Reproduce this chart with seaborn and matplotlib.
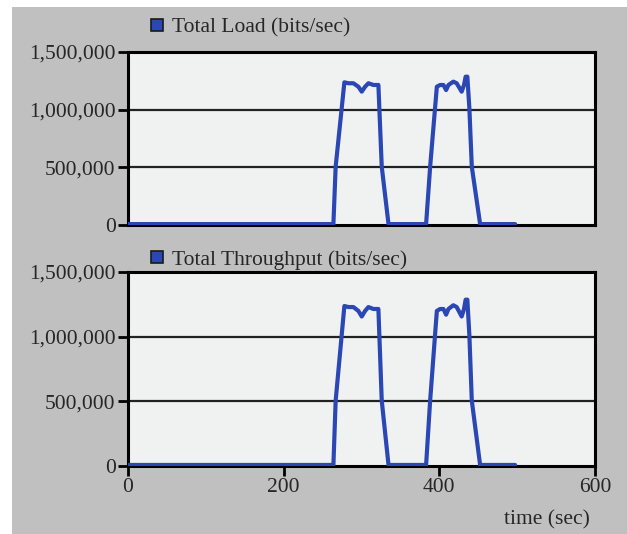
import numpy as np
import pandas as pd
import matplotlib
matplotlib.use('Agg')
from matplotlib import pyplot as plt
from matplotlib.lines import Line2D
from matplotlib.patches import Rectangle
import seaborn as sns

# values
time_sec = [0, 263.9, 266.8, 278, 283.2, 289.6, 296, 300.3, 304.6, 308.9, 315.3, 321.7,
            326, 334.7, 383, 388.2, 396.8, 401, 405.3, 408.7, 411.7, 418, 422.3, 428.7,
            431.7, 433.8, 436, 438.6, 441.7, 452.4, 497.4]
total_load = [8000, 8000, 506000, 1237000, 1229000, 1229000, 1199000, 1156000, 1199000, 1229000,
              1214000, 1214000, 506000, 8000, 8000, 506000, 1199000, 1214000, 1214000, 1170000,
              1214000, 1243000, 1229000, 1156000, 1214000, 1286000, 1286000, 1011000, 506000,
              8000, 8000]
total_throughput = [8000, 8000, 506000, 1237000, 1229000, 1229000, 1199000, 1156000, 1199000, 1229000,
                    1214000, 1214000, 506000, 8000, 8000, 506000, 1199000, 1214000, 1214000, 1170000,
                    1214000, 1243000, 1229000, 1156000, 1214000, 1286000, 1286000, 1011000, 506000,
                    8000, 8000]
y_ticks = [0, 500000, 1000000, 1500000]
y_tick_labels = ['0', '500,000', '1,000,000', '1,500,000']
x_ticks = [0, 200, 400, 600]
x_tick_labels = ['0', '200', '400', '600']
titles = ['Total Load (bits/sec)', 'Total Throughput (bits/sec)']

sns.set_style('white')
plt.rcParams['font.family'] = ['Liberation Serif', 'DejaVu Serif']

line_color = '#2b47b4'
panel_bg = '#f0f2f2'
fig_bg = '#c0c0c0'

fig = plt.figure(figsize=(6.27, 5.34), dpi=100)
fig.patch.set_facecolor('white')
bg = Rectangle((12 / 627, 0), 1, 1 - 7 / 534, transform=fig.transFigure,
               facecolor=fig_bg, edgecolor='none', zorder=-10)
fig.patches.append(bg)

ax1 = fig.add_axes([128 / 627, 1 - 225 / 534, 467 / 627, 173 / 534])
ax2 = fig.add_axes([128 / 627, 1 - 466 / 534, 467 / 627, 194 / 534])

df = pd.DataFrame({'time': time_sec, 'load': total_load, 'throughput': total_throughput})

for ax, col, title, leg_y in [(ax1, 'load', titles[0], 1.07), (ax2, 'throughput', titles[1], 1.0)]:
    ax.set_facecolor(panel_bg)
    sns.lineplot(data=df, x='time', y=col, ax=ax, color=line_color, linewidth=3, zorder=3)
    ax.set_xlim(0, 600)
    ax.set_ylim(0, 1500000)
    ax.set_yticks(y_ticks)
    ax.set_yticklabels(y_tick_labels)
    for v in y_ticks[1:-1]:
        ax.axhline(v, color='#222222', linewidth=1.6, zorder=2)
    for s in ax.spines.values():
        s.set_visible(True)
        s.set_color('black')
        s.set_linewidth(2.2)
    ax.tick_params(axis='both', direction='out', length=7, width=2, color='black',
                   labelsize=15.5, pad=2, left=True, bottom=True)
    ax.set_ylabel('')
    ax.set_xlabel('')
    handle = Line2D([], [], marker='s', linestyle='none', markersize=8.5,
                    markerfacecolor=line_color, markeredgecolor='#1a1a1a', markeredgewidth=1.2)
    ax.legend([handle], [title], loc='lower left', bbox_to_anchor=(0.037, leg_y), frameon=False,
              fontsize=15.5, handletextpad=0.25, borderaxespad=0.0, borderpad=0.1,
              handlelength=0.9)

ax1.set_xticks(x_ticks)
ax1.tick_params(axis='x', bottom=False, labelbottom=False)
ax2.set_xticks(x_ticks)
ax2.set_xticklabels(x_tick_labels)
ax2.set_xlabel('time (sec)', fontsize=15.5)
ax2.xaxis.set_label_coords(0.99, -0.23)
ax2.xaxis.label.set_horizontalalignment('right')

plt.savefig('out.png', dpi=100, facecolor=fig.get_facecolor())
